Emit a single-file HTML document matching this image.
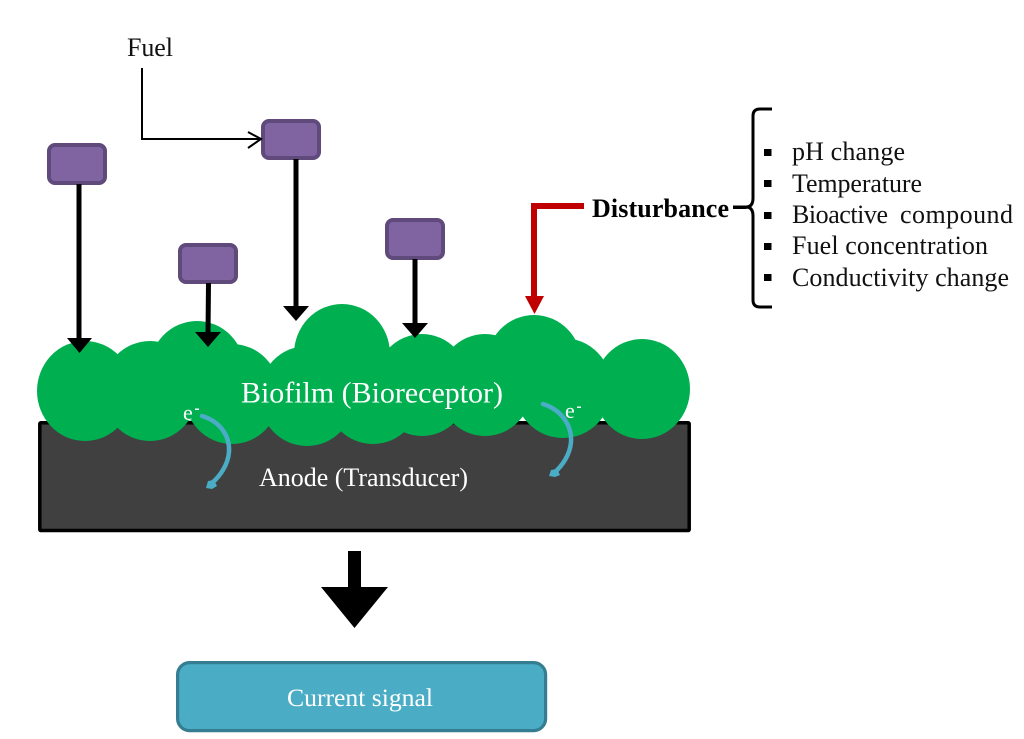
<!DOCTYPE html>
<html>
<head>
<meta charset="utf-8">
<style>
html,body{margin:0;padding:0;background:#fff;}
svg{display:block;filter:blur(0.35px);}
text{font-family:"Liberation Serif",serif;}
</style>
</head>
<body>
<svg width="1024" height="739" viewBox="0 0 1024 739" xmlns="http://www.w3.org/2000/svg">
<rect width="1024" height="739" fill="#fff"/>

<!-- Anode -->
<rect x="39.800" y="422.800" width="649.400" height="107.700" fill="#404040" stroke="#000" stroke-width="3.500" rx="1"/>

<!-- Biofilm -->
<g fill="#00B050">
<ellipse cx="85" cy="391" rx="48" ry="50"/>
<ellipse cx="150" cy="391" rx="48" ry="50"/>
<ellipse cx="197" cy="371" rx="48" ry="50"/>
<ellipse cx="232" cy="394" rx="48" ry="50"/>
<ellipse cx="307" cy="396" rx="48" ry="50"/>
<ellipse cx="342" cy="354" rx="48" ry="50"/>
<ellipse cx="373" cy="394" rx="48" ry="50"/>
<ellipse cx="422" cy="385" rx="48" ry="51"/>
<ellipse cx="485" cy="385" rx="48" ry="51"/>
<ellipse cx="534" cy="365" rx="48" ry="50"/>
<ellipse cx="563" cy="388" rx="49" ry="50"/>
<ellipse cx="642" cy="389" rx="48" ry="50"/>
</g>

<!-- Purple boxes -->
<g fill="#8064A2" stroke="#604A7B" stroke-width="4">
<rect x="49" y="145" width="56" height="38" rx="6"/>
<rect x="263" y="121" width="56" height="37" rx="6"/>
<rect x="180" y="245" width="56" height="37" rx="6"/>
<rect x="387" y="220" width="56" height="38" rx="6"/>
</g>

<!-- Black arrows -->
<g stroke="#000" stroke-width="5" fill="none">
<line x1="79" y1="184" x2="79" y2="340"/>
<line x1="296" y1="159" x2="296" y2="308"/>
<line x1="208.500" y1="283" x2="208" y2="334"/>
<line x1="415" y1="259" x2="415" y2="325"/>
</g>
<g fill="#000">
<polygon points="67,338 92,338 79.500,353"/>
<polygon points="283,306 309,306 296,321"/>
<polygon points="195,332 221,332 208,347"/>
<polygon points="402,323 428,323 415,338"/>
</g>

<!-- Fuel line -->
<text x="127" y="56" font-size="26" fill="#111" textLength="46">Fuel</text>
<path d="M142 68 V139 H260" fill="none" stroke="#000" stroke-width="2"/>
<path d="M248 132 L261 139 L248 148" fill="none" stroke="#000" stroke-width="2"/>

<!-- Red arrow -->
<path d="M584 206 H534 V298" fill="none" stroke="#C00000" stroke-width="6"/>
<polygon points="525,296 544,296 534.500,314" fill="#C00000"/>

<!-- Disturbance and brace -->
<text x="592" y="217" font-size="26" font-weight="bold" fill="#000" textLength="137">Disturbance</text>
<path d="M772 109 H760 Q753 109 753 116 V198 Q753 207 746 207 H733" fill="none" stroke="#000" stroke-width="3"/>
<path d="M746 207 Q753 207 753 216 V300 Q753 307 760 307 H772" fill="none" stroke="#000" stroke-width="3"/>
<path d="M733 205.500 H746 L751 207 L746 209 H733 Z" fill="#000"/>

<!-- Bullet list -->
<g fill="#000">
<rect x="764" y="149" width="7.500" height="7"/>
<rect x="764" y="180" width="7.500" height="7"/>
<rect x="764" y="212" width="7.500" height="7"/>
<rect x="764" y="243" width="7.500" height="7"/>
<rect x="764" y="274" width="7.500" height="7"/>
</g>
<g font-size="26" fill="#111">
<text x="792" y="160" textLength="113">pH change</text>
<text x="792" y="192" textLength="130">Temperature</text>
<text x="792" y="223" textLength="96">Bioactive</text>
<text x="900" y="223" textLength="113">compound</text>
<text x="792" y="254" textLength="196">Fuel concentration</text>
<text x="792" y="286" textLength="217">Conductivity change</text>
</g>

<!-- Labels in diagram -->
<text x="241" y="402.500" font-size="30" fill="#fff" textLength="262">Biofilm (Bioreceptor)</text>
<text x="259" y="486" font-size="26" fill="#fff" textLength="209">Anode (Transducer)</text>
<text x="183" y="420" font-size="22" fill="#fff">e</text>
<rect x="195" y="408.500" width="4" height="1.500" fill="#fff"/>
<text x="565" y="418" font-size="22" fill="#fff">e</text>
<rect x="577" y="406.500" width="4" height="1.500" fill="#fff"/>

<!-- Electron arcs -->
<g fill="none" stroke="#4BACC6" stroke-width="4.500" stroke-linecap="round">
<path d="M202 416 C222 422 230 438 229 452 C228 465 220 476 212 483"/>
<path d="M543 404 C562 410 572 426 571 442 C570 455 562 466 554 473"/>
</g>
<g fill="#4BACC6">
<polygon points="206,488 208,481 214,480 217,486 212,489"/>
<polygon points="549,476 551,470 557,469 560,475 555,477"/>
</g>

<!-- Big arrow -->
<polygon points="348,551 361,551 361,587 388,587 354.500,628 321,587 348,587" fill="#000"/>

<!-- Current signal -->
<rect x="177.600" y="662.600" width="368" height="68" rx="12" fill="#4BACC6" stroke="#357D91" stroke-width="3.200"/>
<text x="287" y="706" font-size="25.700" fill="#fff" textLength="146">Current signal</text>
</svg>
</body>
</html>
